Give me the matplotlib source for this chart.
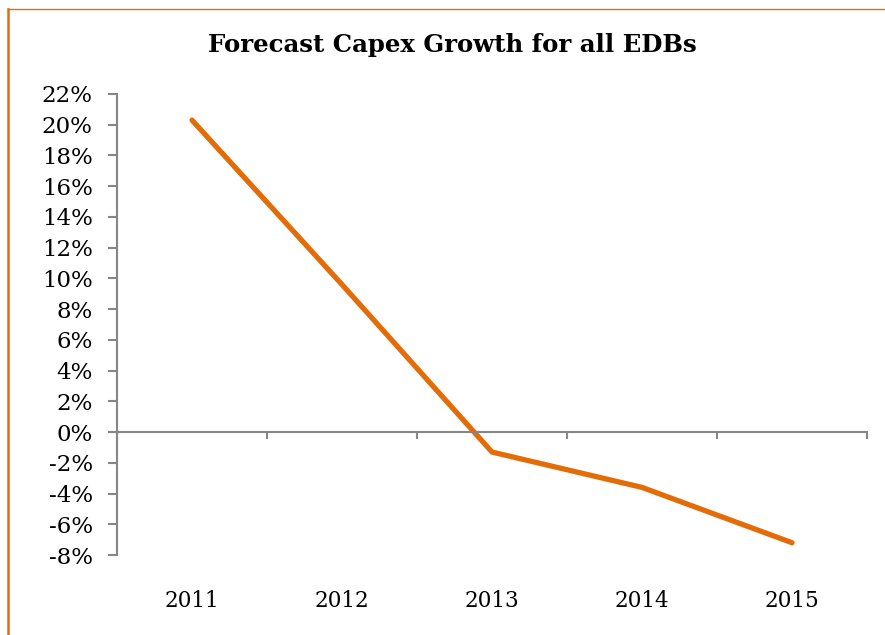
import matplotlib
matplotlib.use("Agg")
import matplotlib.pyplot as plt
import matplotlib.transforms as mtransforms
from matplotlib.lines import Line2D

years = ["2011", "2012", "2013", "2014", "2015"]
growth = [20.3, 9.6, -1.3, -3.6, -7.2]
yticks = list(range(-8, 23, 2))
ytick_labels = [f"{v}%" for v in yticks]
title = "Forecast Capex Growth for all EDBs"

orange = "#E36C09"
grey = "#868686"
font = "DejaVu Serif"

fig = plt.figure(figsize=(8.85, 6.35), dpi=100)
ax = fig.add_axes([117/885, 1-555/635, (867-117)/885, (555-94)/635])

x = list(range(len(years)))
ax.plot(x, growth, color=orange, linewidth=3.8, solid_capstyle="round", solid_joinstyle="round")

ax.set_xlim(-0.5, len(years) - 0.5)
ax.set_ylim(-8, 22)
ax.set_yticks(yticks)
ax.set_yticklabels(ytick_labels, fontname=font, fontsize=16.5)

ax.spines["top"].set_visible(False)
ax.spines["right"].set_visible(False)
ax.spines["left"].set_color(grey)
ax.spines["left"].set_linewidth(1.5)
ax.spines["bottom"].set_position(("data", 0))
ax.spines["bottom"].set_color(grey)
ax.spines["bottom"].set_linewidth(1.5)

ax.set_xticks([i - 0.5 for i in range(len(years) + 1)])
ax.set_xticklabels([])
ax.tick_params(axis="x", direction="out", length=5, width=1.5, color=grey)
ax.tick_params(axis="y", direction="out", length=6.5, width=1.5, color=grey, pad=11)

trans = mtransforms.blended_transform_factory(ax.transData, ax.transAxes)
for i, yr in enumerate(years):
    ax.text(i, -0.1, yr, transform=trans, ha="center", va="center",
            fontname=font, fontsize=15.5)

fig.text(452/885, 1-45/635, title, ha="center", va="center",
         fontname=font, fontsize=17.6, fontweight="bold")

# figure frame: orange left and top lines
fig.add_artist(Line2D([8/885, 8/885], [0, 1-9/635], transform=fig.transFigure,
                      color=orange, linewidth=1.8))
fig.add_artist(Line2D([8/885, 1], [1-9/635, 1-9/635], transform=fig.transFigure,
                      color=orange, linewidth=1.0))

fig.savefig("out.png", dpi=100)
